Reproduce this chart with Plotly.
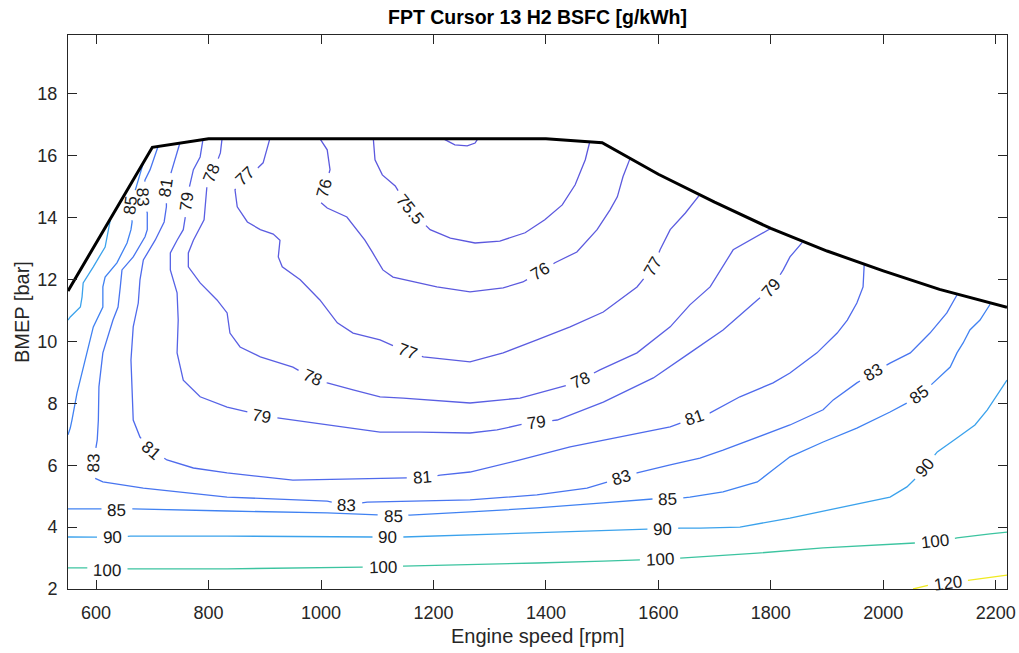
import math
import plotly.graph_objects as go

# ---------------- data ----------------
X_RANGE = [550, 2220]
Y_RANGE = [2, 19.9]
x_ticks = [600, 800, 1000, 1200, 1400, 1600, 1800, 2000, 2200]
y_ticks = [2, 4, 6, 8, 10, 12, 14, 16, 18]

full_load_rpm = [550, 700, 800, 1400, 1500, 1600, 1700, 1800, 1900, 2000, 2100, 2200, 2220]
full_load_bmep = [11.63, 16.27, 16.55, 16.55, 16.42, 15.4, 14.5, 13.65, 12.92, 12.28, 11.68, 11.2, 11.1]

c75_rpm = [1217, 1238, 1260, 1274, 1279]
c75_bmep = [16.55, 16.35, 16.32, 16.41, 16.55]

c755_rpm = [1093, 1096, 1109, 1132, 1158, 1194, 1230, 1274, 1318, 1363, 1398, 1429, 1452, 1470, 1478]
c755_bmep = [16.55, 15.87, 15.38, 15.02, 14.25, 13.61, 13.34, 13.18, 13.24, 13.51, 13.93, 14.41, 15.06, 15.87, 16.45]

c76_rpm = [998, 1011, 1016, 1007, 998, 1011, 1046, 1064, 1078, 1091, 1110, 1128, 1206, 1265, 1324, 1359, 1390,
           1416, 1455, 1491, 1514, 1527, 1537, 1550]
c76_bmep = [16.55, 16.19, 15.55, 14.96, 14.51, 14.31, 14.02, 13.61, 13.27, 12.89, 12.31, 12.08, 11.76, 11.6, 11.73,
            11.92, 12.25, 12.54, 12.89, 13.61, 14.25, 14.67, 15.32, 15.93]

c77_rpm = [909, 897, 888, 865, 847, 851, 869, 892, 915, 927, 924, 931, 963, 998, 1029, 1057, 1105, 1153, 1182, 1265,
           1324, 1384, 1443, 1502, 1562, 1591, 1603, 1621, 1648, 1672]
c77_bmep = [16.55, 15.77, 15.61, 15.32, 14.9, 14.35, 13.86, 13.61, 13.47, 13.27, 12.73, 12.41, 11.99, 11.34, 10.6,
            10.27, 10.05, 9.66, 9.5, 9.34, 9.63, 10.05, 10.47, 10.95, 11.76, 12.41, 12.96, 13.61, 14.15, 14.7]

c78_rpm = [824, 821, 815, 806, 797, 794, 792, 773, 764, 764, 785, 815, 833, 838, 856, 892, 950, 984, 1011, 1057, 1105,
           1146, 1265, 1354, 1425, 1461, 1496, 1562, 1621, 1656, 1692, 1733, 1763, 1799]
c78_bmep = [16.55, 16.09, 15.8, 15.45, 14.99, 14.48, 13.93, 13.27, 12.86, 12.41, 11.89, 11.34, 10.92, 10.27, 9.82, 9.5,
            9.17, 8.82, 8.66, 8.43, 8.21, 8.17, 8.01, 8.17, 8.5, 8.75, 9.08, 9.63, 10.47, 11.18, 11.76, 12.96, 13.27,
            13.64]

c79_rpm = [790, 785, 773, 767, 762, 758, 755, 744, 732, 732, 744, 746, 744, 755, 785, 833, 869, 895, 922, 1011, 1105,
           1176, 1265, 1313, 1349, 1384, 1420, 1502, 1591, 1656, 1715, 1776, 1802, 1822, 1834, 1856]
c79_bmep = [16.52, 15.96, 15.55, 15.12, 14.51, 13.93, 13.61, 13.27, 12.86, 12.31, 11.57, 10.69, 9.63, 8.75, 8.21, 7.88,
            7.72, 7.56, 7.53, 7.3, 7.07, 7.07, 7.04, 7.14, 7.3, 7.37, 7.46, 8.04, 8.82, 9.63, 10.37, 11.34, 11.73,
            12.31, 12.73, 13.2]

c81_rpm = [749, 741, 735, 725, 725, 721, 705, 684, 678, 675, 666, 662, 664, 666, 678, 698, 726, 773, 833, 950, 1105,
           1180, 1212, 1265, 1354, 1443, 1532, 1621, 1665, 1692, 1745, 1804, 1834, 1882, 1918, 1936, 1953, 1964, 1966]
c81_bmep = [16.41, 15.96, 15.55, 14.96, 14.35, 13.86, 13.27, 12.63, 11.99, 11.24, 10.47, 9.4, 8.33, 7.46, 6.91, 6.49,
            6.17, 5.91, 5.75, 5.52, 5.59, 5.59, 5.68, 5.78, 6.17, 6.59, 6.91, 7.24, 7.53, 7.69, 8.21, 8.66, 8.98, 9.63,
            10.27, 10.69, 11.24, 11.76, 12.47]

c83_rpm = [710, 696, 687, 682, 691, 691, 687, 666, 646, 643, 639, 630, 612, 605, 604, 602, 595, 593, 612, 684, 833,
           1011, 1046, 1082, 1265, 1384, 1473, 1535, 1562, 1621, 1674, 1715, 1776, 1834, 1893, 1911, 1953, 1982, 2012,
           2048, 2083, 2113, 2131]
c83_bmep = [16.29, 15.55, 15.22, 14.67, 14.15, 13.61, 13.38, 12.73, 12.31, 11.76, 11.11, 10.69, 9.63, 8.53, 7.46, 6.82,
            6.07, 5.62, 5.46, 5.26, 4.97, 4.84, 4.71, 4.81, 4.88, 5.04, 5.26, 5.59, 5.75, 6.01, 6.23, 6.49, 6.91, 7.3,
            7.79, 8.11, 8.66, 8.98, 9.3, 9.63, 10.27, 10.92, 11.5]

c85a_rpm = [684, 675, 662, 664, 662, 655, 637, 616, 612, 612, 595, 580, 566, 557, 554, 550]
c85a_bmep = [15.77, 15.22, 14.41, 13.86, 13.61, 13.18, 12.54, 12.08, 11.76, 11.11, 10.47, 9.4, 8.33, 7.46, 7.2, 6.98]

c85b_rpm = [550, 607, 637, 666, 833, 1011, 1105, 1128, 1158, 1265, 1384, 1502, 1591, 1617, 1656, 1715, 1776, 1804,
            1834, 1893, 1953, 2012, 2042, 2065, 2089, 2119, 2131, 2142, 2154, 2172, 2190]
c85b_bmep = [4.59, 4.59, 4.55, 4.59, 4.52, 4.46, 4.39, 4.33, 4.39, 4.49, 4.62, 4.78, 4.91, 4.88, 4.97, 5.14, 5.46,
             5.85, 6.27, 6.75, 7.2, 7.72, 8.01, 8.27, 8.66, 9.17, 9.63, 9.95, 10.37, 10.69, 11.2]

c90a_rpm = [625, 616, 595, 577, 575, 572, 554, 550]
c90a_bmep = [13.9, 13.05, 12.41, 11.89, 11.44, 11.11, 10.79, 10.69]

c90b_rpm = [550, 595, 629, 661, 833, 1011, 1105, 1119, 1146, 1265, 1384, 1502, 1585, 1608, 1639, 1674, 1745, 1834,
            1923, 2012, 2042, 2060, 2074, 2096, 2131, 2163, 2185, 2202, 2220]
c90b_bmep = [3.68, 3.68, 3.65, 3.71, 3.71, 3.68, 3.68, 3.65, 3.68, 3.75, 3.81, 3.87, 3.94, 3.91, 3.97, 3.97, 4.0,
             4.29, 4.62, 4.97, 5.3, 5.62, 5.94, 6.43, 6.88, 7.3, 7.79, 8.27, 8.75]

c100_rpm = [550, 584, 620, 657, 833, 1011, 1075, 1110, 1146, 1265, 1384, 1502, 1567, 1603, 1639, 1674, 1776, 1893,
            2012, 2060, 2092, 2131, 2190, 2220]
c100_bmep = [2.68, 2.68, 2.61, 2.65, 2.65, 2.68, 2.71, 2.71, 2.74, 2.78, 2.84, 2.9, 2.94, 2.94, 3.0, 3.03, 3.16,
             3.33, 3.45, 3.49, 3.52, 3.65, 3.78, 3.84]

c120_rpm = [2053, 2083, 2115, 2154, 2220]
c120_bmep = [2.0, 2.13, 2.19, 2.29, 2.45]

label_text = ["75.5", "76", "76", "77", "77", "77", "78", "78", "78", "79", "79", "79", "79",
              "81", "81", "81", "81", "83", "83", "83", "83", "83", "85", "85", "85", "85", "85",
              "90", "90", "90", "90", "100", "100", "100", "100", "120"]
label_rpm = [1158, 1007, 1390, 865, 1153, 1591, 806, 984, 1461, 762, 895, 1384, 1802,
             725, 698, 1180, 1665, 682, 595, 1046, 1535, 1982, 662, 637, 1128, 1617, 2065,
             629, 1119, 1608, 2074, 620, 1110, 1603, 2092, 2115]
label_bmep = [14.25, 14.96, 12.25, 15.32, 9.66, 12.41, 15.45, 8.82, 8.75, 14.51, 7.56, 7.37, 11.73,
              14.96, 6.49, 5.59, 7.53, 14.67, 6.07, 4.71, 5.59, 8.98, 14.41, 4.55, 4.33, 4.88, 8.27,
              3.65, 3.65, 3.91, 5.94, 2.61, 2.71, 2.94, 3.52, 2.19]

# ---------------- styling ----------------
contour_lines = [
    ("75", c75_rpm, c75_bmep, "#5c58de"),
    ("75.5", c755_rpm, c755_bmep, "#5c58de"),
    ("76", c76_rpm, c76_bmep, "#5c5ade"),
    ("77", c77_rpm, c77_bmep, "#5b5ce0"),
    ("78", c78_rpm, c78_bmep, "#5a5fe3"),
    ("79", c79_rpm, c79_bmep, "#5663e6"),
    ("81", c81_rpm, c81_bmep, "#4f6aec"),
    ("83", c83_rpm, c83_bmep, "#4875f0"),
    ("85", c85a_rpm, c85a_bmep, "#4082f2"),
    ("85", c85b_rpm, c85b_bmep, "#4082f2"),
    ("90", c90a_rpm, c90a_bmep, "#3ba2ec"),
    ("90", c90b_rpm, c90b_bmep, "#3ba2ec"),
    ("100", c100_rpm, c100_bmep, "#3cc4a0"),
    ("120", c120_rpm, c120_bmep, "#f0ea20"),
]

W, H = 1019, 653
M_L, M_R, M_T, M_B = 68, 12, 35, 64
PW, PH = W - M_L - M_R, H - M_T - M_B
LABEL_FS = 17
TEXT_FONT = "Arial, Liberation Sans, Helvetica, sans-serif"


def to_px(x, y):
    return ((x - X_RANGE[0]) / (X_RANGE[1] - X_RANGE[0]) * PW,
            (Y_RANGE[1] - y) / (Y_RANGE[1] - Y_RANGE[0]) * PH)


def text_width(s):
    return sum(0.278 if ch == "." else 0.556 for ch in s) * LABEL_FS


def seg_circle(p0, p1, c, r):
    dx, dy = p1[0] - p0[0], p1[1] - p0[1]
    a = dx * dx + dy * dy
    if a == 0:
        return None
    b = 2 * (dx * (p0[0] - c[0]) + dy * (p0[1] - c[1]))
    cc = (p0[0] - c[0]) ** 2 + (p0[1] - c[1]) ** 2 - r * r
    disc = b * b - 4 * a * cc
    if disc <= 0:
        return None
    s = math.sqrt(disc)
    return (-b - s) / (2 * a), (-b + s) / (2 * a)


def clip_line(xs, ys, circles):
    pts = [to_px(x, y) for x, y in zip(xs, ys)]
    ox, oy = [], []
    pen = False
    for i in range(len(xs) - 1):
        ivs = []
        for (c, r) in circles:
            t = seg_circle(pts[i], pts[i + 1], c, r)
            if t is None:
                continue
            lo, hi = max(t[0], 0.0), min(t[1], 1.0)
            if lo < hi:
                ivs.append((lo, hi))
        ivs.sort()
        vis, cur = [], 0.0
        for lo, hi in ivs:
            if lo > cur:
                vis.append((cur, lo))
            cur = max(cur, hi)
        if cur < 1.0:
            vis.append((cur, 1.0))
        x0, y0, x1, y1 = xs[i], ys[i], xs[i + 1], ys[i + 1]
        for a, b in vis:
            if a > 0 or not pen:
                if ox:
                    ox.append(None)
                    oy.append(None)
                ox.append(x0 + a * (x1 - x0))
                oy.append(y0 + a * (y1 - y0))
            ox.append(x0 + b * (x1 - x0))
            oy.append(y0 + b * (y1 - y0))
            pen = (b >= 1.0)
        if not vis:
            pen = False
    return ox, oy


def label_angle(xs, ys, c, r):
    pts = [to_px(x, y) for x, y in zip(xs, ys)]
    cross = []
    best, bd = None, 1e18
    for i in range(len(pts) - 1):
        p0, p1 = pts[i], pts[i + 1]
        t = seg_circle(p0, p1, c, r)
        if t is not None:
            for tt in t:
                if 0 <= tt <= 1:
                    cross.append((p0[0] + tt * (p1[0] - p0[0]), p0[1] + tt * (p1[1] - p0[1])))
        mx, my = (p0[0] + p1[0]) / 2, (p0[1] + p1[1]) / 2
        d = (mx - c[0]) ** 2 + (my - c[1]) ** 2
        if d < bd:
            bd, best = d, (p0, p1)
    if len(cross) >= 2:
        p, q = cross[0], cross[-1]
    else:
        p, q = best
    ang = math.degrees(math.atan2(q[1] - p[1], q[0] - p[0]))
    while ang > 90:
        ang -= 180
    while ang <= -90:
        ang += 180
    return ang


def dist_to_line(xs, ys, c):
    best = 1e18
    for x, y in zip(xs, ys):
        px, py = to_px(x, y)
        best = min(best, (px - c[0]) ** 2 + (py - c[1]) ** 2)
    return best


label_info = []
for txt, lx, ly in zip(label_text, label_rpm, label_bmep):
    c = to_px(lx, ly)
    r = text_width(txt) / 2 + 6
    cands = [k for k, ln in enumerate(contour_lines) if ln[0] == txt]
    k = min(cands, key=lambda kk: dist_to_line(contour_lines[kk][1], contour_lines[kk][2], c))
    label_info.append((txt, lx, ly, c, r, k))

fig = go.Figure()
for k, (lev, xs, ys, col) in enumerate(contour_lines):
    circles = [(li[3], li[4]) for li in label_info if li[5] == k]
    cx, cy = clip_line(xs, ys, circles)
    fig.add_trace(go.Scatter(x=cx, y=cy, mode="lines", line=dict(color=col, width=1.3),
                             hoverinfo="skip", showlegend=False))

fig.add_trace(go.Scatter(x=full_load_rpm, y=full_load_bmep, mode="lines",
                         line=dict(color="black", width=3), showlegend=False, hoverinfo="skip"))

annotations = []
for txt, lx, ly, c, r, k in label_info:
    ang = label_angle(contour_lines[k][1], contour_lines[k][2], c, r)
    annotations.append(dict(x=lx, y=ly, xref="x", yref="y", text=txt, showarrow=False,
                            textangle=ang, xanchor="center", yanchor="middle",
                            font=dict(family=TEXT_FONT, size=LABEL_FS, color="#1a1a1a")))

annotations.append(dict(x=0.5, y=-(636 - (M_T + PH)) / PH, xref="paper", yref="paper",
                        text="Engine speed [rpm]", showarrow=False, xanchor="center", yanchor="middle",
                        font=dict(family=TEXT_FONT, size=20, color="#262626")))
annotations.append(dict(x=(22 - M_L) / PW, y=0.5, xref="paper", yref="paper", text="BMEP [bar]",
                        showarrow=False, textangle=-90, xanchor="center", yanchor="middle",
                        font=dict(family=TEXT_FONT, size=20, color="#262626")))

axis_common = dict(showline=True, mirror="ticks", linecolor="#262626", linewidth=1,
                   ticks="inside", ticklen=9, tickwidth=1, tickcolor="#262626",
                   showgrid=False, zeroline=False,
                   tickfont=dict(family=TEXT_FONT, size=18, color="#262626"))

fig.update_layout(
    width=W, height=H,
    margin=dict(l=M_L, r=M_R, t=M_T, b=M_B, autoexpand=False),
    paper_bgcolor="white", plot_bgcolor="white",
    title=dict(text="<b>FPT Cursor 13 H2 BSFC [g/kWh]</b>", x=(M_L + PW / 2) / W, xref="container",
               xanchor="center", y=1 - 17 / H, yref="container", yanchor="middle",
               font=dict(family=TEXT_FONT, size=19.5, color="black")),
    xaxis=dict(range=X_RANGE, tickvals=x_ticks, ticklabelstandoff=7, **axis_common),
    yaxis=dict(range=Y_RANGE, tickvals=y_ticks, ticklabelstandoff=6, **axis_common),
    annotations=annotations,
)

fig.write_html("out.html", config={"displayModeBar": False},
               post_script="document.body.style.margin='0';document.body.style.overflow='hidden';")
